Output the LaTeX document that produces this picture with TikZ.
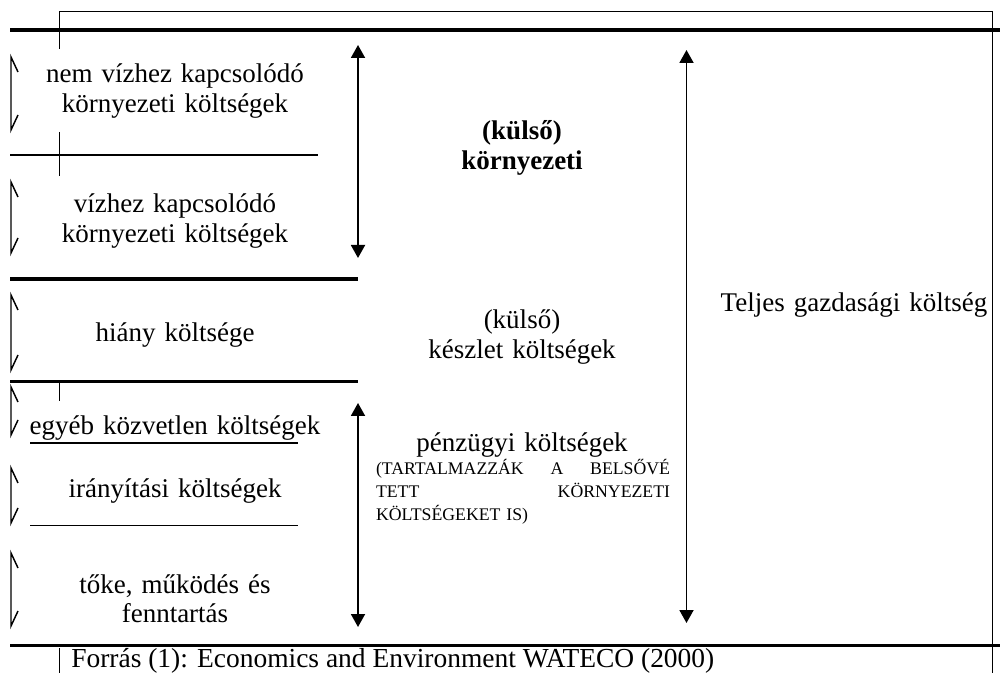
\documentclass[tikz,border=0pt]{standalone}
\usepackage{fontspec}
\setmainfont{Liberation Serif}
\usetikzlibrary{arrows.meta,positioning}

\newcommand{\bodysize}{\fontsize{20.25}{22}\selectfont}

\begin{document}
\begin{tikzpicture}[x=0.75pt, y=-0.75pt,  % 1 unit = 1 px, y downwards
  font=\bodysize,
  >={Triangle[length=9.75pt, width=10.5pt]},
  item/.style={text width=240pt, align=center, anchor=base, inner sep=0pt},
  mid/.style={text width=230pt, align=center, anchor=base, inner sep=0pt},
  note/.style={text width=220.5pt, align=left, anchor=base, inner sep=0pt,
               font=\fontsize{13.3}{16.9}\selectfont},
  thickrule/.style={line width=2.4pt},
  thinrule/.style={line width=0.9pt},
  frame/.style={line width=0.7pt},
  brace/.style={line width=1.1pt},
  arrow/.style={<->, line width=1.4pt}
]
\useasboundingbox (0,0) rectangle (1000,673);

% --- Frame pieces ---
\draw[frame] (59,49) -- (59,11) -- (992.7,11) -- (992.7,673);
\draw[frame] (59,132) -- (59,176);
\draw[frame] (59,383) -- (59,401);
\draw[frame] (59,648) -- (59,673);

% --- Rules ---
\draw[thickrule, line width=3pt] (10,30) -- (1000,30);
\draw[thinrule] (10,155) -- (318,155);
\draw[thickrule] (10,279) -- (358,279);
\draw[thickrule] (10,381.5) -- (358,381.5);
\draw[thinrule] (30,443) -- (298,443);
\draw[thinrule] (30,525.5) -- (298,525.5);
\draw[thickrule] (10,645.5) -- (1000,645.5);

% --- Left brackets ---
\foreach \t/\b in {57/130, 182/253, 295/370, 387/435, 468/523, 553/626}
  \draw[brace] (18,\t+15) -- (11,\t) -- (11,\b) -- (18,\b-15);

% --- Nodes ---
\node[item] (nemviz)    at (175,83)  {nem vízhez kapcsolódó\\környezeti költségek};
\node[item] (viz)       at (175,213) {vízhez kapcsolódó\\környezeti költségek};
\node[item] (hiany)     at (175,342) {hiány költsége};
\node[item] (egyeb)     at (175,435) {egyéb közvetlen költségek};
\node[item] (iranyitas) at (175,498) {irányítási költségek};
\node[item] (toke)      at (175,593) {tőke, működés és\\fenntartás};

\node[mid, font=\bodysize\bfseries] (kulsoenv) at (522,140) {(külső)\\környezeti};
\node[mid] (keszlet)  at (522,329) {(külső)\\készlet költségek};
\node[mid] (penzugyi) at (522,452) {pénzügyi költségek};
\node[note] (penzugyinote) at (523,475)
  {\makebox[220.5pt]{(TARTALMAZZÁK\hfill A\hfill BELSŐVÉ}\\
   \makebox[220.5pt]{TETT\hfill KÖRNYEZETI}\\
   KÖLTSÉGEKET IS)};
\node[mid] (teljes) at (854,312) {Teljes gazdasági költség};

\node[anchor=base west, inner sep=0pt, font=\fontsize{20.6}{22}\selectfont] (forras) at (71,667)
  {Forrás (1): Economics and Environment WATECO (2000)};

% --- Span arrows ---
\coordinate (envtop)   at (358,45);
\coordinate (envbot)   at (358,258);
\coordinate (fintop)   at (358,403);
\coordinate (finbot)   at (358,627);
\coordinate (totaltop) at (686.5,50);
\coordinate (totalbot) at (686.5,623);

\draw[arrow] (envtop) -- (envbot);
\draw[arrow] (fintop) -- (finbot);
\draw[arrow] (totaltop) -- (totalbot);

\end{tikzpicture}
\end{document}
